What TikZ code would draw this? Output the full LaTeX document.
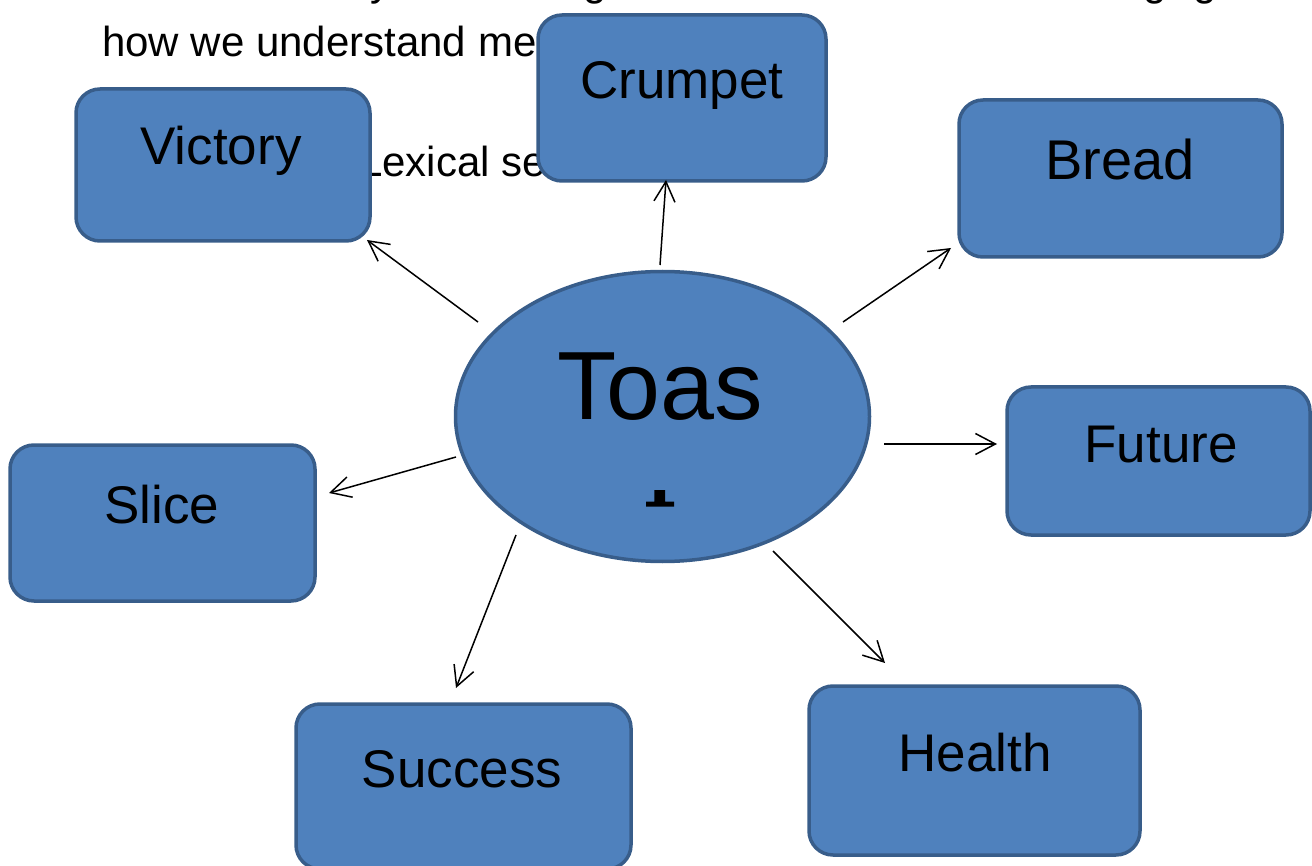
\documentclass[tikz,border=0pt]{standalone}
\usepackage{fontspec}
\setmainfont{Liberation Sans}
\usetikzlibrary{arrows.meta,shapes.geometric}
\definecolor{boxfill}{HTML}{4F81BD}
\definecolor{boxline}{HTML}{385D8A}
\tikzset{
  conceptbox/.style={rectangle, rounded corners=24pt, fill=boxfill, draw=boxline,
    line width=3.5pt, inner sep=0pt, outer sep=0pt},
  boxlabel/.style={anchor=base, inner sep=0pt, text=black,
    font=\fontsize{53}{60}\selectfont},
  bgtext/.style={anchor=base west, inner sep=0pt, text=black,
    font=\fontsize{42}{48}\selectfont},
  link/.style={line width=1.5pt, black,
    -{Straight Barb[length=20pt,width=21pt,line width=1.5pt]}},
}
\begin{document}
\begin{tikzpicture}[x=1pt,y=-1pt]
\useasboundingbox (0,0) rectangle (1312,866);
\clip (0,0) rectangle (1312,866);
% background text partly hidden by the boxes
\node[bgtext] (frag1) at (370,-4) {y};
\node[bgtext] (frag2) at (583,-4) {g};
\node[bgtext] (frag3) at (1143,-4) {g};
\node[bgtext] (frag4) at (1193,-4) {g};
\node[bgtext] (line2) at (102,57) {how we understand meaning};
\node[bgtext] (line3) at (359,177) {Lexical semantics};
% boxes
\node[conceptbox, minimum width=294pt, minimum height=152pt] (victory) at (223,165) {};
\node[conceptbox, minimum width=288pt, minimum height=166pt] (crumpet) at (682,98) {};
\node[conceptbox, minimum width=323pt, minimum height=157pt] (bread) at (1120.5,178.5) {};
\node[conceptbox, minimum width=303pt, minimum height=148pt] (future) at (1158.5,461) {};
\node[conceptbox, minimum width=305pt, minimum height=156pt] (slice) at (162.5,523) {};
\node[conceptbox, minimum width=335pt, minimum height=165pt] (success) at (463.5,786.5) {};
\node[conceptbox, minimum width=331pt, minimum height=169pt] (health) at (974.5,770.5) {};
% labels
\node[boxlabel] (victoryT) at (221,165) {Victory};
\node[boxlabel] (crumpetT) at (682,99) {Crumpet};
\node[boxlabel, font=\fontsize{56}{62}\selectfont] (breadT) at (1120,180) {Bread};
\node[boxlabel] (futureT) at (1161,462) {Future};
\node[boxlabel] (sliceT) at (162,523) {Slice};
\node[boxlabel] (successT) at (462,787) {Success};
\node[boxlabel] (healthT) at (975,771) {Health};
% centre ellipse
\node[ellipse, fill=boxfill, draw=boxline, line width=3.5pt, inner sep=0pt,
  minimum width=414pt, minimum height=290pt] (toast) at (662.5,416.5) {};
\node[anchor=base, inner sep=0pt, font=\fontsize{97}{110}\selectfont] (toastT) at (660,420) {Toas};
\fill[black] (654.3,490) rectangle (665,502) (646,501.7) rectangle (674,506.7);
% connectors
\coordinate (v0) at (478,322); \coordinate (v1) at (367,240);
\coordinate (c0) at (660,265); \coordinate (c1) at (666,180);
\coordinate (b0) at (843,322); \coordinate (b1) at (951,248);
\coordinate (f0) at (884,444); \coordinate (f1) at (997,444);
\coordinate (s0) at (456,457); \coordinate (s1) at (329,493);
\coordinate (u0) at (516,535); \coordinate (u1) at (456,688);
\coordinate (h0) at (773,551); \coordinate (h1) at (885,663);
\draw[link] (v0) -- (v1);
\draw[link] (c0) -- (c1);
\draw[link] (b0) -- (b1);
\draw[link] (f0) -- (f1);
\draw[link] (s0) -- (s1);
\draw[link] (u0) -- (u1);
\draw[link] (h0) -- (h1);
\end{tikzpicture}
\end{document}
